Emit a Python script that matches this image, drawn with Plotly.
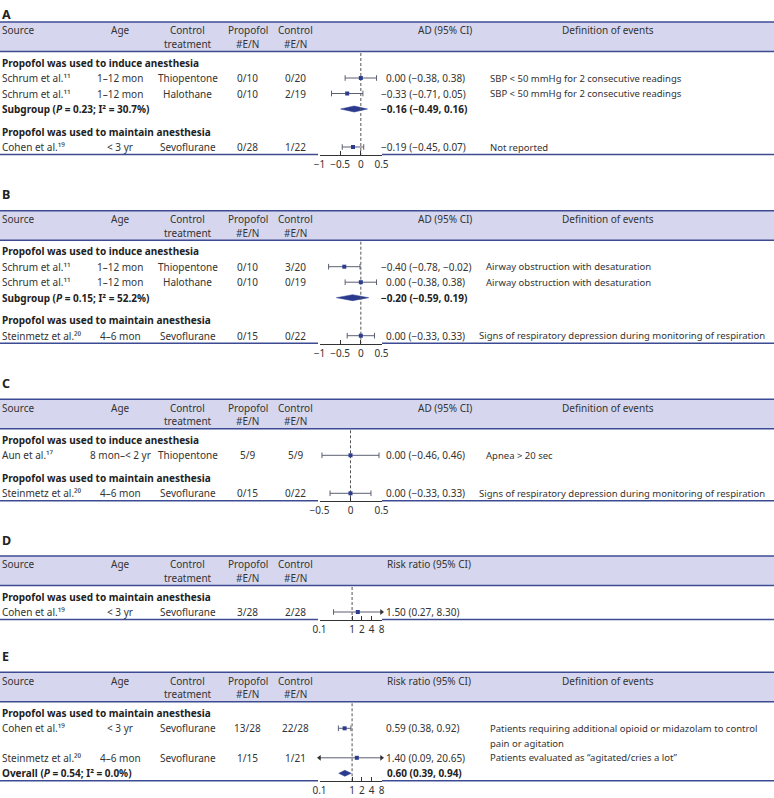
import math
import plotly.graph_objects as go

W, H = 774, 798

SEC_INDUCE = "Propofol was used to induce anesthesia"
SEC_MAINTAIN = "Propofol was used to maintain anesthesia"
DEF_SBP = "SBP &lt; 50 mmHg for 2 consecutive readings"
DEF_AIR = "Airway obstruction with desaturation"
DEF_RESP = "Signs of respiratory depression during monitoring of respiration"

# ---------------- Panel A (AD) ----------------
A_type = ["sec", "study", "study", "pool", "sec", "study"]
A_source = [SEC_INDUCE, "Schrum et al.", "Schrum et al.",
            "Subgroup (<i>P</i> = 0.23; I² = 30.7%)", SEC_MAINTAIN, "Cohen et al."]
A_refno = ["", "¹¹", "¹¹", "", "", "¹⁹"]
A_age = ["", "1–12 mon", "1–12 mon", "", "", "&lt; 3 yr"]
A_control = ["", "Thiopentone", "Halothane", "", "", "Sevoflurane"]
A_prop = ["", "0/10", "0/10", "", "", "0/28"]
A_ctrl = ["", "0/20", "2/19", "", "", "1/22"]
A_est = [None, 0.00, -0.33, -0.16, None, -0.19]
A_lo = [None, -0.38, -0.71, -0.49, None, -0.45]
A_hi = [None, 0.38, 0.05, 0.16, None, 0.07]
A_def = ["", DEF_SBP, DEF_SBP, "", "", "Not reported"]
A_ticks = [-1, -0.5, 0, 0.5]

# ---------------- Panel B (AD) ----------------
B_type = ["sec", "study", "study", "pool", "sec", "study"]
B_source = [SEC_INDUCE, "Schrum et al.", "Schrum et al.",
            "Subgroup (<i>P</i> = 0.15; I² = 52.2%)", SEC_MAINTAIN, "Steinmetz et al."]
B_refno = ["", "¹¹", "¹¹", "", "", "²⁰"]
B_age = ["", "1–12 mon", "1–12 mon", "", "", "4–6 mon"]
B_control = ["", "Thiopentone", "Halothane", "", "", "Sevoflurane"]
B_prop = ["", "0/10", "0/10", "", "", "0/15"]
B_ctrl = ["", "3/20", "0/19", "", "", "0/22"]
B_est = [None, -0.40, 0.00, -0.20, None, 0.00]
B_lo = [None, -0.78, -0.38, -0.59, None, -0.33]
B_hi = [None, -0.02, 0.38, 0.19, None, 0.33]
B_def = ["", DEF_AIR, DEF_AIR, "", "", DEF_RESP]
B_ticks = [-1, -0.5, 0, 0.5]

# ---------------- Panel C (AD) ----------------
C_type = ["sec", "study", "sec", "study"]
C_source = [SEC_INDUCE, "Aun et al.", SEC_MAINTAIN, "Steinmetz et al."]
C_refno = ["", "¹⁷", "", "²⁰"]
C_age = ["", "8 mon–&lt; 2 yr", "", "4–6 mon"]
C_control = ["", "Thiopentone", "", "Sevoflurane"]
C_prop = ["", "5/9", "", "0/15"]
C_ctrl = ["", "5/9", "", "0/22"]
C_est = [None, 0.00, None, 0.00]
C_lo = [None, -0.46, None, -0.33]
C_hi = [None, 0.46, None, 0.33]
C_def = ["", "Apnea &gt; 20 sec", "", DEF_RESP]
C_ticks = [-0.5, 0, 0.5]

# ---------------- Panel D (Risk ratio) ----------------
D_type = ["sec", "study"]
D_source = [SEC_MAINTAIN, "Cohen et al."]
D_refno = ["", "¹⁹"]
D_age = ["", "&lt; 3 yr"]
D_control = ["", "Sevoflurane"]
D_prop = ["", "3/28"]
D_ctrl = ["", "2/28"]
D_est = [None, 1.50]
D_lo = [None, 0.27]
D_hi = [None, 8.30]
D_def = ["", ""]
D_ticks = [0.1, 1, 2, 4, 8]

# ---------------- Panel E (Risk ratio) ----------------
E_type = ["sec", "study", "study", "pool"]
E_source = [SEC_MAINTAIN, "Cohen et al.", "Steinmetz et al.",
            "Overall (<i>P</i> = 0.54; I² = 0.0%)"]
E_refno = ["", "¹⁹", "²⁰", ""]
E_age = ["", "&lt; 3 yr", "4–6 mon", ""]
E_control = ["", "Sevoflurane", "Sevoflurane", ""]
E_prop = ["", "13/28", "1/15", ""]
E_ctrl = ["", "22/28", "1/21", ""]
E_est = [None, 0.59, 1.40, 0.60]
E_lo = [None, 0.38, 0.09, 0.39]
E_hi = [None, 0.92, 20.65, 0.94]
E_def = ["", "Patients requiring additional opioid or midazolam to control<br>pain or agitation",
         "Patients evaluated as “agitated/cries a lot”", ""]
E_ticks = [0.1, 1, 2, 4, 8]

panels = [
    dict(key="A", type=A_type, source=A_source, refno=A_refno, age=A_age, control=A_control,
         prop=A_prop, ctrl=A_ctrl, est=A_est, lo=A_lo, hi=A_hi, defs=A_def, ticks=A_ticks,
         log=False, rng=[-1, 0.5], ref=0, measure="AD (95% CI)", has_def=True),
    dict(key="B", type=B_type, source=B_source, refno=B_refno, age=B_age, control=B_control,
         prop=B_prop, ctrl=B_ctrl, est=B_est, lo=B_lo, hi=B_hi, defs=B_def, ticks=B_ticks,
         log=False, rng=[-1, 0.5], ref=0, measure="AD (95% CI)", has_def=True),
    dict(key="C", type=C_type, source=C_source, refno=C_refno, age=C_age, control=C_control,
         prop=C_prop, ctrl=C_ctrl, est=C_est, lo=C_lo, hi=C_hi, defs=C_def, ticks=C_ticks,
         log=False, rng=[-0.5, 0.5], ref=0, measure="AD (95% CI)", has_def=True),
    dict(key="D", type=D_type, source=D_source, refno=D_refno, age=D_age, control=D_control,
         prop=D_prop, ctrl=D_ctrl, est=D_est, lo=D_lo, hi=D_hi, defs=D_def, ticks=D_ticks,
         log=True, rng=[0.1, 8], ref=1, measure="Risk ratio (95% CI)", has_def=False),
    dict(key="E", type=E_type, source=E_source, refno=E_refno, age=E_age, control=E_control,
         prop=E_prop, ctrl=E_ctrl, est=E_est, lo=E_lo, hi=E_hi, defs=E_def, ticks=E_ticks,
         log=True, rng=[0.1, 8], ref=1, measure="Risk ratio (95% CI)", has_def=True),
]

# ---------------- styling / layout constants ----------------
FONT = "Noto Sans"
FS = 10
FS_DEF = 9.5
TEXT = "#333333"
BAND = "#d6d7ee"
RULE = "#3d4b93"
CI_COLOR = "#5c5f72"
MARK = "#2c3d8f"
DIAMOND = "#2a3a8e"
AXIS_COLOR = "#333333"

PANEL_TOP = {"A": 22, "B": 210.7, "C": 399.3, "D": 556, "E": 672.3}
LETTER_Y = {"A": 14, "B": 194, "C": 383.3, "D": 540, "E": 656.5}
DEF_X = {"A": 490, "B": 486, "C": 486, "D": 486, "E": 490}
DEF_X_LONG = 479
BAND_H = 29.5
FIRST_OFF = 11
ROW_STEP = 15.5
SEC_GAP = 7
EXTRA_LINE_STEP = 14
DEF_LINE_H = 15
BOTTOM_OFF = 7.5
DH = 3.0
X_DOM = (319.5, 381.5)
COL_SOURCE = 2
COL_AGE = 120
COL_CONTROL = 187.5
COL_PROP = 248
COL_CTRL = 295.5
COL_AD_HEAD = 445
COL_RR_HEAD = 387
COL_DEF_HEAD = 608
VAL_X_NEG = 381
VAL_X_POS = 386

annotations = []
shapes = []
fig = go.Figure()


def ann(x, y, text, anchor="left", size=FS, color=TEXT):
    annotations.append(dict(x=x / W, y=y, xref="paper", yref="y", text=text, showarrow=False,
                            xanchor=anchor, yanchor="middle", borderpad=0, borderwidth=0,
                            font=dict(family=FONT, size=size, color=color)))


def hline(x0, x1, y, color=RULE, width=1.5):
    shapes.append(dict(type="line", xref="paper", yref="y", x0=x0 / W, x1=x1 / W, y0=y, y1=y,
                       line=dict(color=color, width=width)))


def fmt(v):
    return f"{v:.2f}".replace("-", "−")


for i, p in enumerate(panels):
    key = p["key"]
    xa = "x" if i == 0 else f"x{i + 1}"
    axname = "xaxis" if i == 0 else f"xaxis{i + 1}"
    top = PANEL_TOP[key]

    # row positions
    ys = []
    y = top + BAND_H + FIRST_OFF
    for j, t in enumerate(p["type"]):
        if j > 0:
            step = ROW_STEP
            if t == "sec":
                step += SEC_GAP
            step += EXTRA_LINE_STEP * p["defs"][j - 1].count("<br>")
            y += step
        ys.append(y)
    bottom = ys[-1] + BOTTOM_OFF

    # panel letter
    ann(2, LETTER_Y[key], f"<b>{key}</b>", size=12.5, color="#222222")

    # header band
    shapes.append(dict(type="rect", xref="paper", yref="y", x0=0, x1=1, y0=top, y1=top + BAND_H,
                       fillcolor=BAND, line=dict(width=0), layer="below"))
    hline(0, W, top)
    hline(0, W, top + BAND_H)
    hline(0, X_DOM[0] - 1.5, bottom)
    hline(X_DOM[1] + 0.5, W, bottom)

    h1 = top + 8.3
    h2 = top + 21.8
    ann(COL_SOURCE, h1, "Source")
    ann(COL_AGE, h1, "Age", "center")
    ann(COL_CONTROL, h1, "Control", "center")
    ann(COL_CONTROL, h2, "treatment", "center")
    ann(COL_PROP, h1, "Propofol", "center")
    ann(COL_PROP, h2, "#E/N", "center")
    ann(COL_CTRL, h1, "Control", "center")
    ann(COL_CTRL, h2, "#E/N", "center")
    if p["log"]:
        ann(COL_RR_HEAD, h1, p["measure"])
    else:
        ann(COL_AD_HEAD, h1, p["measure"], "center")
    if p["has_def"]:
        ann(COL_DEF_HEAD, h1, "Definition of events", "center")

    # forest elements
    lo_lim, hi_lim = p["rng"]
    if p["log"]:
        ax_range = [math.log10(p["rng"][0]), math.log10(p["rng"][1])]
    else:
        ax_range = list(p["rng"])

    ci_x, ci_y, cap_x, cap_y = [], [], [], []
    la_x, la_y, ra_x, ra_y, pt_x, pt_y = [], [], [], [], [], []

    for j, t in enumerate(p["type"]):
        y = ys[j]
        if t == "sec":
            ann(COL_SOURCE, y, f"<b>{p['source'][j]}</b>", color="#222222")
            continue
        est, lo, hi = p["est"][j], p["lo"][j], p["hi"][j]
        val = f"{fmt(est)} ({fmt(lo)}, {fmt(hi)})"
        vx = VAL_X_NEG if est < 0 else VAL_X_POS
        if t == "pool":
            ann(COL_SOURCE, y, f"<b>{p['source'][j]}</b>", color="#222222")
            ann(vx + (1 if p["log"] else 0), y, f"<b>{val}</b>", color="#222222")
            fig.add_trace(go.Scatter(x=[lo, est, hi, est, lo], y=[y, y - DH, y, y + DH, y],
                                     mode="lines", fill="toself", fillcolor=DIAMOND,
                                     line=dict(color=DIAMOND, width=0.5),
                                     xaxis=xa, yaxis="y", hoverinfo="skip"))
            continue
        # study row texts
        ann(COL_SOURCE, y, f"{p['source'][j]}{p['refno'][j]}")
        ann(COL_AGE, y, p["age"][j], "center")
        ann(COL_CONTROL, y, p["control"][j], "center")
        ann(COL_PROP, y, p["prop"][j], "center")
        ann(COL_CTRL, y, p["ctrl"][j], "center")
        ann(vx, y, val)
        d = p["defs"][j]
        if d:
            dx = DEF_X_LONG if len(d) > 62 and "<br>" not in d else DEF_X[key]
            for k, line in enumerate(d.split("<br>")):
                ann(dx, y + k * DEF_LINE_H, line, size=FS_DEF)
        # CI
        x0 = max(lo, lo_lim)
        x1 = min(hi, hi_lim)
        ci_x += [x0, x1, None]
        ci_y += [y, y, None]
        if lo < lo_lim:
            la_x.append(lo_lim); la_y.append(y)
        else:
            cap_x.append(lo); cap_y.append(y)
        if hi > hi_lim:
            ra_x.append(hi_lim); ra_y.append(y)
        else:
            cap_x.append(hi); cap_y.append(y)
        pt_x.append(est); pt_y.append(y)

    # dashed reference line
    fig.add_trace(go.Scatter(x=[p["ref"], p["ref"]], y=[top + BAND_H + 1.5, bottom],
                             mode="lines", line=dict(color="#555555", width=1, dash="3px,2px"),
                             xaxis=xa, yaxis="y", hoverinfo="skip"))
    fig.add_trace(go.Scatter(x=ci_x, y=ci_y, mode="lines", line=dict(color=CI_COLOR, width=1),
                             xaxis=xa, yaxis="y", hoverinfo="skip"))
    fig.add_trace(go.Scatter(x=cap_x, y=cap_y, mode="markers",
                             marker=dict(symbol="line-ns", size=4,
                                         line=dict(color=CI_COLOR, width=1)),
                             xaxis=xa, yaxis="y", hoverinfo="skip", cliponaxis=False))
    if la_x:
        fig.add_trace(go.Scatter(x=la_x, y=la_y, mode="markers",
                                 marker=dict(symbol="triangle-left", size=5, color="#333333"),
                                 xaxis=xa, yaxis="y", hoverinfo="skip", cliponaxis=False))
    if ra_x:
        fig.add_trace(go.Scatter(x=ra_x, y=ra_y, mode="markers",
                                 marker=dict(symbol="triangle-right", size=5, color="#333333"),
                                 xaxis=xa, yaxis="y", hoverinfo="skip", cliponaxis=False))
    fig.add_trace(go.Scatter(x=pt_x, y=pt_y, mode="markers",
                             marker=dict(symbol="square", size=4, color=MARK),
                             xaxis=xa, yaxis="y", hoverinfo="skip", cliponaxis=False))

    axis = dict(domain=[X_DOM[0] / W, X_DOM[1] / W], range=ax_range,
                type="log" if p["log"] else "linear",
                tickmode="array", tickvals=p["ticks"],
                ticktext=[f"{v:g}".replace("-", "−") for v in p["ticks"]],
                anchor="free", position=1 - (bottom + 0.5) / H,
                showline=True, linecolor=AXIS_COLOR, linewidth=1,
                ticks="inside", ticklen=4, tickwidth=1, tickcolor=AXIS_COLOR,
                tickangle=0, tickfont=dict(family=FONT, size=FS, color=TEXT),
                showgrid=False, zeroline=False, fixedrange=True, automargin=False)
    if i > 0:
        axis["overlaying"] = "x"
    fig.layout[axname] = axis

fig.update_layout(
    width=W, height=H,
    margin=dict(l=0, r=0, t=0, b=0, pad=0, autoexpand=False),
    paper_bgcolor="white", plot_bgcolor="rgba(0,0,0,0)",
    showlegend=False,
    yaxis=dict(range=[H, 0], domain=[0, 1], visible=False, fixedrange=True, automargin=False),
    annotations=annotations, shapes=shapes,
)

fig.write_html("out.html", config={"displayModeBar": False},
               post_script="document.body.style.margin='0';document.body.style.overflow='hidden';")
